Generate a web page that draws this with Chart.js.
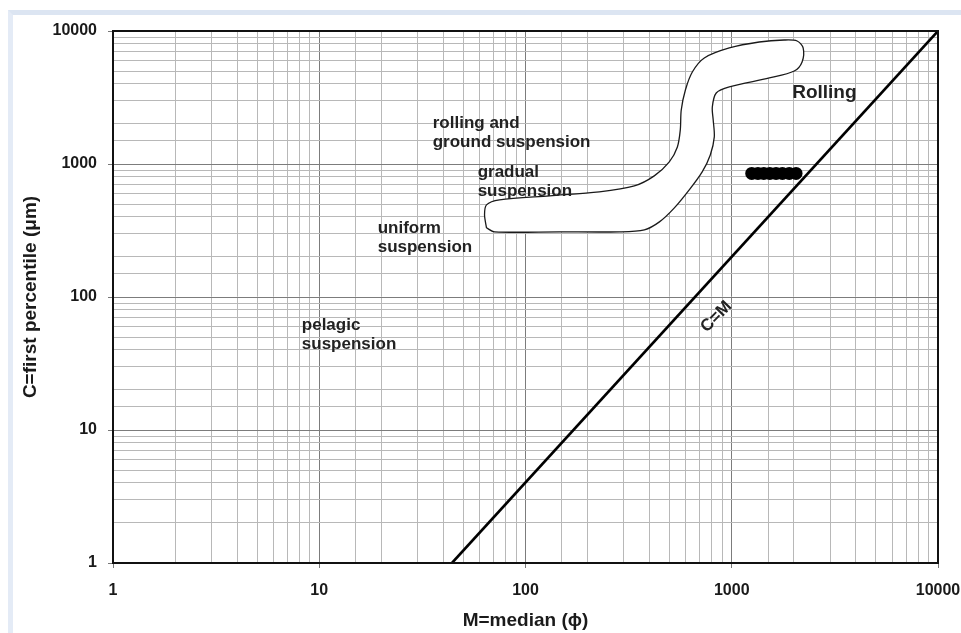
<!DOCTYPE html>
<html>
<head>
<meta charset="utf-8">
<script src="https://cdn.jsdelivr.net/npm/chart.js@4.4.0/dist/chart.umd.min.js"></script>
<style>
  body { margin: 0; background: #fff; }
  #wrap { position: relative; width: 961px; height: 633px; overflow: hidden; }
  #frame { position: absolute; left: 8px; top: 10px; right: -10px; bottom: -10px;
           border-top: 5px solid #dce5f2; border-left: 5px solid #e4ebf6; }
  canvas { position: absolute; left: 0; top: 0; }
</style>
</head>
<body>
<div id="wrap"><div id="frame"></div><canvas id="cmChart" width="961" height="633"></canvas></div>
<script>
// Passega C-M diagram

// envelope of the gradual suspension field (closed outline, M / C)
const envelopeM = [64.7, 70.8, 146, 285, 377, 446, 527, 622, 719, 787, 823, 813, 805, 841, 973,
                   1521, 2009, 2193, 2219, 2075, 1795, 1359, 973, 736, 644, 596, 569, 563, 545,
                   498, 421, 337, 228, 131, 74.8, 64.7, 63.3, 64.7];
const envelopeC = [331, 309, 309, 309, 320, 367, 468, 639, 873, 1170, 1598, 2143, 2685, 3420, 3797,
                   4436, 5004, 5853, 7455, 8414, 8555, 8267, 7455, 6270, 4920, 3603, 2548, 1803, 1344,
                   1037, 814, 684, 617, 576, 537, 493, 415, 331];

// the C=M reference line
const limitM = [44, 10000];
const limitC = [1, 10000];

// samples
const sampleM = [1250, 1340, 1430, 1530, 1640, 1760, 1900, 2050];
const sampleC = [850, 850, 850, 850, 850, 850, 850, 850];

const tickValues = [1, 10, 100, 1000, 10000];

const zoneLabels = [
    { lines: ['rolling and', 'ground suspension'], m: 35.5, c: 2037 },
    { lines: ['gradual', 'suspension'], m: 58.6, c: 873 },
    { lines: ['uniform', 'suspension'], m: 19.2, c: 331 },
    { lines: ['pelagic', 'suspension'], m: 8.23, c: 60.8 }
];

const FONT = "'Liberation Sans', Arial, sans-serif";

function toPoints(xs, ys) {
    return xs.map((x, i) => ({ x: x, y: ys[i] }));
}

function isDecade(v) {
    return tickValues.includes(v);
}

// zone names, the Rolling label and the rotated C=M label
const labelPlugin = {
    id: 'labels',
    afterDatasetsDraw(chart) {
        const ctx = chart.ctx;
        const xs = chart.scales.x;
        const ys = chart.scales.y;
        const area = chart.chartArea;

        ctx.save();
        ctx.fillStyle = '#222';
        ctx.textAlign = 'left';
        ctx.textBaseline = 'middle';
        ctx.font = 'bold 17px ' + FONT;
        zoneLabels.forEach(z => {
            const px = xs.getPixelForValue(z.m);
            const py = ys.getPixelForValue(z.c);
            z.lines.forEach((line, i) => ctx.fillText(line, px, py + i * 19));
        });

        ctx.font = 'bold 19px ' + FONT;
        ctx.fillText('Rolling', xs.getPixelForValue(1963), ys.getPixelForValue(3420));

        ctx.translate(xs.getPixelForValue(841), ys.getPixelForValue(71));
        ctx.rotate(-46 * Math.PI / 180);
        ctx.textAlign = 'center';
        ctx.font = 'bold 17px ' + FONT;
        ctx.fillText('C=M', 0, 0);
        ctx.restore();

        // outer frame
        ctx.save();
        ctx.strokeStyle = '#111';
        ctx.lineWidth = 2;
        ctx.strokeRect(area.left, area.top, area.right - area.left, area.bottom - area.top);
        ctx.restore();
    }
};

const ctx = document.getElementById('cmChart').getContext('2d');

const cmChart = new Chart(ctx, {
    type: 'scatter',
    data: {
        datasets: [
            {
                label: 'samples',
                data: toPoints(sampleM, sampleC),
                pointRadius: 6.5,
                pointBackgroundColor: '#000',
                pointBorderColor: '#000',
                pointBorderWidth: 0
            },
            {
                label: 'C=M',
                data: toPoints(limitM, limitC),
                showLine: true,
                borderColor: '#000',
                borderWidth: 2.6,
                pointRadius: 0
            },
            {
                label: 'gradual suspension',
                data: toPoints(envelopeM, envelopeC),
                showLine: true,
                fill: 'shape',
                backgroundColor: '#fff',
                borderColor: '#1a1a1a',
                borderWidth: 1.3,
                tension: 0.3,
                pointRadius: 0
            }
        ]
    },
    options: {
        responsive: false,
        animation: false,
        layout: { padding: { left: 0, top: 31, right: 23, bottom: 0 } },
        plugins: {
            legend: { display: false },
            tooltip: { enabled: false }
        },
        scales: {
            x: {
                type: 'logarithmic',
                min: 1,
                max: 10000,
                afterFit(scale) {
                    scale.height = 70;
                    scale.paddingLeft = 0;
                    scale.paddingRight = 0;
                },
                border: { color: '#111', width: 2 },
                grid: {
                    color: c => isDecade(c.tick && c.tick.value) ? '#7c7c7c' : '#b8b8b8',
                    tickColor: c => isDecade(c.tick && c.tick.value) ? '#777' : 'rgba(0,0,0,0)',
                    tickLength: 5
                },
                ticks: {
                    autoSkip: false,
                    maxRotation: 0,
                    padding: 13,
                    color: '#1a1a1a',
                    font: { family: FONT, size: 16, weight: 'bold' },
                    callback: v => isDecade(v) ? String(v) : ''
                },
                title: {
                    display: true,
                    text: 'M=median (ϕ)',
                    color: '#1a1a1a',
                    padding: { top: 0, bottom: 1 },
                    font: { family: FONT, size: 19, weight: 'bold' }
                }
            },
            y: {
                type: 'logarithmic',
                min: 1,
                max: 10000,
                afterFit(scale) {
                    scale.width = 113;
                    scale.paddingTop = 0;
                    scale.paddingBottom = 0;
                },
                border: { color: '#111', width: 2 },
                grid: {
                    color: c => isDecade(c.tick && c.tick.value) ? '#7c7c7c' : '#b8b8b8',
                    tickColor: c => isDecade(c.tick && c.tick.value) ? '#777' : 'rgba(0,0,0,0)',
                    tickLength: 5
                },
                ticks: {
                    autoSkip: false,
                    padding: 11,
                    color: '#1a1a1a',
                    font: { family: FONT, size: 16, weight: 'bold' },
                    callback: v => isDecade(v) ? String(v) : ''
                },
                title: {
                    display: true,
                    text: 'C=first percentile (μm)',
                    color: '#1a1a1a',
                    padding: { top: 19, bottom: 0 },
                    font: { family: FONT, size: 19, weight: 'bold' }
                }
            }
        }
    },
    plugins: [labelPlugin]
});
</script>
</body>
</html>
